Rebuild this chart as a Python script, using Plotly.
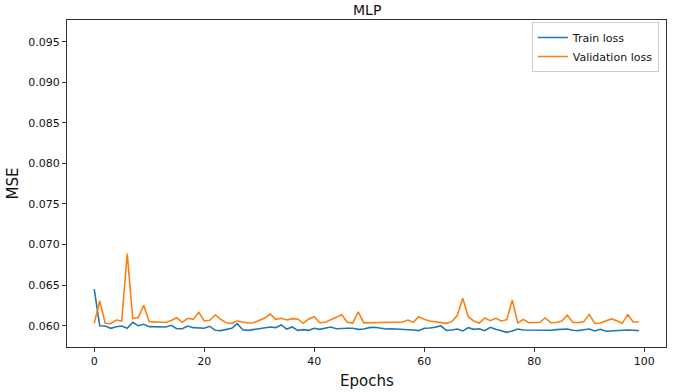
import plotly.graph_objects as go

epochs = list(range(100))

train_loss = [
    0.06452, 0.06000, 0.05996, 0.05968, 0.05988, 0.05996, 0.05968, 0.06042, 0.06000, 0.06017,
    0.05988, 0.05984, 0.05984, 0.05984, 0.06005, 0.05963, 0.05963, 0.05996, 0.05976, 0.05968,
    0.05968, 0.05992, 0.05943, 0.05939, 0.05951, 0.05968, 0.06025, 0.05951, 0.05943, 0.05951,
    0.05964, 0.05968, 0.05984, 0.05976, 0.06009, 0.05959, 0.05984, 0.05943, 0.05951, 0.05943,
    0.05968, 0.05955, 0.05968, 0.05984, 0.05963, 0.05968, 0.05968, 0.05968, 0.05955, 0.05959,
    0.05976, 0.05980, 0.05968, 0.05959, 0.05963, 0.05959, 0.05963, 0.05951, 0.05947, 0.05939,
    0.05968, 0.05972, 0.05980, 0.06000, 0.05943, 0.05947, 0.05959, 0.05935, 0.05976, 0.05955,
    0.05963, 0.05939, 0.05980, 0.05955, 0.05939, 0.05918, 0.05935, 0.05959, 0.05947, 0.05947,
    0.05939, 0.05943, 0.05939, 0.05943, 0.05951, 0.05951, 0.05959, 0.05943, 0.05939, 0.05951,
    0.05959, 0.05935, 0.05955, 0.05931, 0.05935, 0.05947, 0.05947, 0.05947, 0.05943, 0.05939,
]

val_loss = [
    0.06029, 0.06308, 0.06029, 0.06025, 0.06070, 0.06058, 0.06890, 0.06087, 0.06099, 0.06251,
    0.06050, 0.06046, 0.06042, 0.06040, 0.06065, 0.06099, 0.06042, 0.06091, 0.06078, 0.06165,
    0.06058, 0.06066, 0.06132, 0.06078, 0.06037, 0.06029, 0.06058, 0.06042, 0.06033, 0.06037,
    0.06062, 0.06095, 0.06144, 0.06078, 0.06091, 0.06070, 0.06087, 0.06083, 0.06029, 0.06083,
    0.06111, 0.06037, 0.06042, 0.06070, 0.06103, 0.06136, 0.06042, 0.06033, 0.06169, 0.06035,
    0.06037, 0.06042, 0.06046, 0.06042, 0.06042, 0.06042, 0.06042, 0.06070, 0.06042, 0.06111,
    0.06078, 0.06058, 0.06050, 0.06046, 0.06029, 0.06050, 0.06125, 0.06337, 0.06111, 0.06058,
    0.06033, 0.06095, 0.06062, 0.06091, 0.06058, 0.06074, 0.06317, 0.06033, 0.06078, 0.06037,
    0.06037, 0.06042, 0.06095, 0.06037, 0.06040, 0.06058, 0.06128, 0.06042, 0.06037, 0.06050,
    0.06140, 0.06029, 0.06033, 0.06058, 0.06083, 0.06062, 0.06029, 0.06136, 0.06046, 0.06046,
]

x_ticks = [0, 20, 40, 60, 80, 100]
y_ticks = [0.060, 0.065, 0.070, 0.075, 0.080, 0.085, 0.090, 0.095]

fig = go.Figure()
fig.add_trace(go.Scatter(x=epochs, y=train_loss, mode="lines", name="Train loss",
                         line=dict(color="#1f77b4", width=1.6)))
fig.add_trace(go.Scatter(x=epochs, y=val_loss, mode="lines", name="Validation loss",
                         line=dict(color="#ff7f0e", width=1.6)))

axis_common = dict(showline=True, linecolor="#333333", linewidth=1, mirror=True,
                   ticks="outside", ticklen=4, tickcolor="#333333", showgrid=False,
                   zeroline=False,
                   tickfont=dict(family="DejaVu Sans", size=11, color="#111111"))

fig.update_layout(
    width=685, height=392,
    margin=dict(l=61, r=19, t=20, b=45),
    paper_bgcolor="white", plot_bgcolor="white",
    xaxis=dict(range=[-4.95, 103.95], tickvals=x_ticks, ticktext=[str(v) for v in x_ticks],
               **axis_common),
    yaxis=dict(range=[0.057375, 0.09767], tickvals=y_ticks, ticktext=[f"{v:.3f}" for v in y_ticks],
               title=dict(text="MSE", font=dict(family="DejaVu Sans", size=15, color="#111111"), standoff=6),
               **axis_common),
    legend=dict(x=0.988, y=0.994, xanchor="right", yanchor="top", bgcolor="rgba(255,255,255,0.8)",
                bordercolor="#cccccc", borderwidth=1, tracegroupgap=0,
                font=dict(family="DejaVu Sans", size=11, color="#111111")),
    showlegend=True,
    annotations=[
        dict(text="MLP", xref="paper", yref="paper", x=0.5, y=1.0,
             xanchor="center", yanchor="bottom", showarrow=False,
             font=dict(family="DejaVu Sans", size=14, color="#111111")),
        dict(text="Epochs", xref="paper", yref="paper", x=0.5, y=0.0,
             xanchor="center", yanchor="middle", yshift=-34, showarrow=False,
             font=dict(family="DejaVu Sans", size=15, color="#111111")),
    ],
)

fig.write_html("out.html", config={"displayModeBar": False},
               post_script="document.body.style.margin='0';")
